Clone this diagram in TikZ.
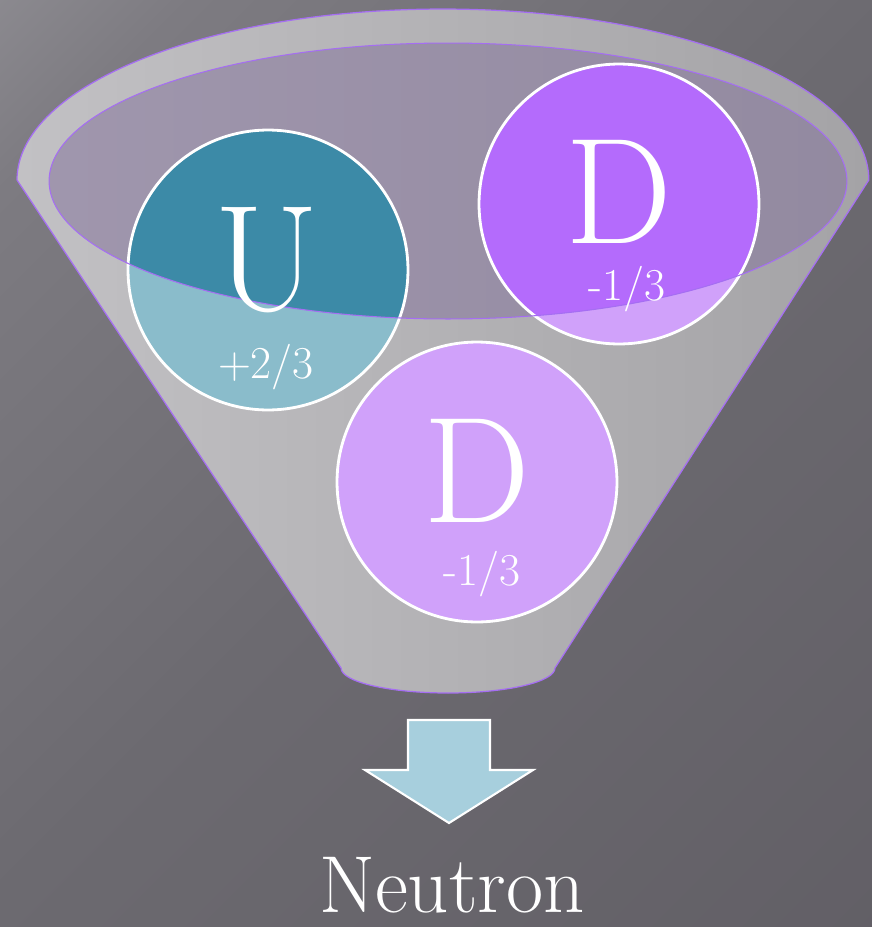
\documentclass[tikz,border=0pt]{standalone}
\usepackage{fontspec}
\usetikzlibrary{positioning}

\definecolor{bgdark}{HTML}{5E5B62}
\definecolor{bgmid}{HTML}{6C6A70}
\definecolor{bgpale}{HTML}{7D7B81}
\definecolor{bglight}{HTML}{A5A4A9}
\definecolor{rimline}{HTML}{A56EF2}
\definecolor{funnellight}{HTML}{C2C1C4}
\definecolor{funneldark}{HTML}{A4A3A6}
\definecolor{mouth}{HTML}{85759C}
\definecolor{upcolor}{HTML}{8ABCCB}
\definecolor{updark}{HTML}{3C8AA7}
\definecolor{downcolor}{HTML}{D0A1FA}
\definecolor{downdark}{HTML}{B46BFC}
\definecolor{arrowblue}{HTML}{A7CFDD}

\pgfdeclareverticalshading{backdrop}{100bp}{color(0bp)=(bgdark); color(50bp)=(bgmid); color(78bp)=(bgpale); color(100bp)=(bglight)}

\begin{document}
\begin{tikzpicture}[
  x=0.02cm, y=-0.02cm,
  quark/.style={circle, draw=white, line width=1.6pt, minimum size=5.6cm, inner sep=0pt},
  inmouth/.style={path picture={\fill[#1] (oc) ellipse [x radius=7.98cm, y radius=2.76cm];}},
  flavour/.style={text=white, font=\fontsize{86}{86}\selectfont, inner sep=0pt, anchor=base},
  charge/.style={text=white, font=\fontsize{26}{26}\selectfont, inner sep=0pt, anchor=base},
  funnel/.style={left color=funnellight, right color=funneldark, draw=rimline, line width=0.7pt},
  downarrow/.style={fill=arrowblue, draw=white, line width=1.2pt, line join=miter}
]
  % background
  \shade[shading=backdrop, shading angle=45] (0,0) rectangle (872,927);

  % funnel body and its opening
  \path[funnel] (17,180) arc[start angle=180, end angle=0, x radius=8.52cm, y radius=3.42cm]
    -- (555,668) arc[start angle=0, end angle=-180, x radius=2.14cm, y radius=0.5cm] -- cycle;
  \coordinate (oc) at (448,181);
  \fill[mouth, fill opacity=0.55] (oc) ellipse [x radius=7.98cm, y radius=2.76cm];

  % quarks
  \node[quark, fill=upcolor, inmouth=updark] (uq) at (268,270) {};
  \node[quark, fill=downcolor, inmouth=downdark] (dq1) at (619,204) {};
  \node[quark, fill=downcolor] (dq2) at (477,482) {};
  \draw[rimline, line width=0.6pt] (oc) ellipse [x radius=7.98cm, y radius=2.76cm];

  \node[flavour] (ul) at (267,310) {U};
  \node[charge] (uc) at (266,378) {+2/3};
  \node[flavour] (dl1) at (619,243) {D};
  \node[charge] (dc1) at (627,300) {-1/3};
  \node[flavour] (dl2) at (477,522) {D};
  \node[charge] (dc2) at (482,585) {-1/3};

  % result
  \coordinate (arrowtop) at (449,720);
  \draw[downarrow] (arrowtop) ++(-41,0) -- ++(82,0) -- ++(0,50) -- ++(43,0)
    -- ++(-84,53) -- ++(-84,-53) -- ++(43,0) -- cycle;
  \node[text=white, font=\fontsize{46}{46}\selectfont, inner sep=0pt, anchor=base] (neutron)
    at (452,912) {Neutron};
\end{tikzpicture}
\end{document}
